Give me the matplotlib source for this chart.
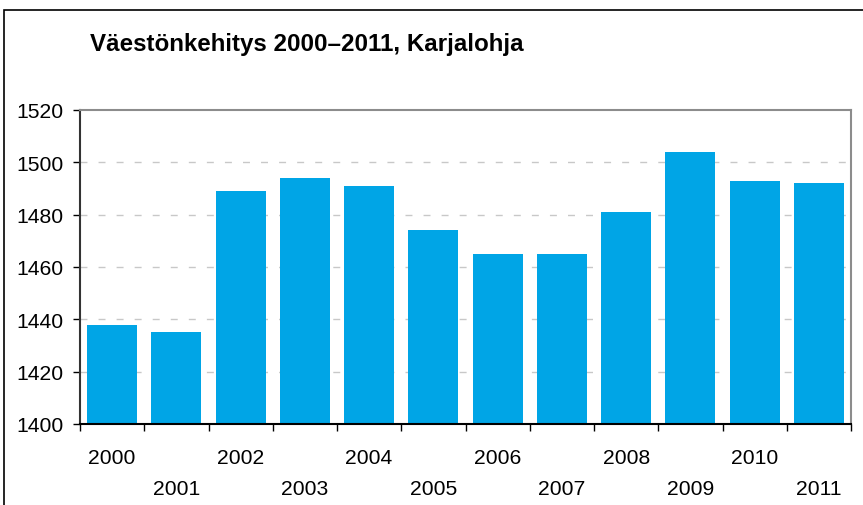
import numpy as np
import matplotlib
matplotlib.use("Agg")
import matplotlib.pyplot as plt
from matplotlib.patches import Rectangle

# population of Karjalohja
years = ['2000', '2001', '2002', '2003', '2004', '2005',
         '2006', '2007', '2008', '2009', '2010', '2011']
population = [1438, 1435, 1489, 1494, 1491, 1474,
              1465, 1465, 1481, 1504, 1493, 1492]
yTicks = [1400, 1420, 1440, 1460, 1480, 1500, 1520]
title = "Väestönkehitys 2000–2011, Karjalohja"

plt.rcParams['font.family'] = ['Liberation Sans', 'DejaVu Sans']

W, H = 863, 506
fig = plt.figure(figsize=(W / 100, H / 100), dpi=100)
ax = fig.add_axes([80 / W, (H - 425) / H, 771 / W, 314 / H])

xPos = np.arange(len(years))
ax.bar(xPos, population, width=0.78, color='#00a5e6', zorder=2)

ax.set_xlim(-0.5, len(years) - 0.5)
ax.set_ylim(yTicks[0], yTicks[-1])
ax.set_yticks(yTicks)
ax.tick_params(axis='y', labelsize=15.2, length=5, width=1, direction='out', pad=7)

# labels at bar centres, tick marks between bars
ax.set_xticks(xPos)
ax.set_xticklabels(years)
ax.set_xticks(np.arange(len(years) + 1) - 0.5, minor=True)
ax.tick_params(axis='x', which='major', length=0, labelsize=15.2)
ax.tick_params(axis='x', which='minor', length=5, width=1)
for i, tick in enumerate(ax.xaxis.get_major_ticks()):
    tick.set_pad(17.5 if i % 2 == 0 else 39.5)

# dashed grid, not on the top line
for yv in yTicks[1:-1]:
    ax.axhline(yv, color='#c8c8c8', lw=1, linestyle=(0, (5, 8)), zorder=1)

ax.spines['left'].set_color('#333333')
ax.spines['bottom'].set_color('black')
ax.spines['top'].set_color('#8c8c8c')
ax.spines['right'].set_color('#8c8c8c')
for s in ax.spines.values():
    s.set_linewidth(1.5)

# outer frame of the chart
fig.add_artist(Rectangle((4 / W, -0.2), 1.2, 1.2 - 11 / H,
                         transform=fig.transFigure, fill=False,
                         edgecolor='black', lw=1.2))

fig.text(90 / W, 1 - 51 / H, title, fontsize=17.4, fontweight='bold',
         ha='left', va='baseline')

fig.savefig("out.png", dpi=100)
